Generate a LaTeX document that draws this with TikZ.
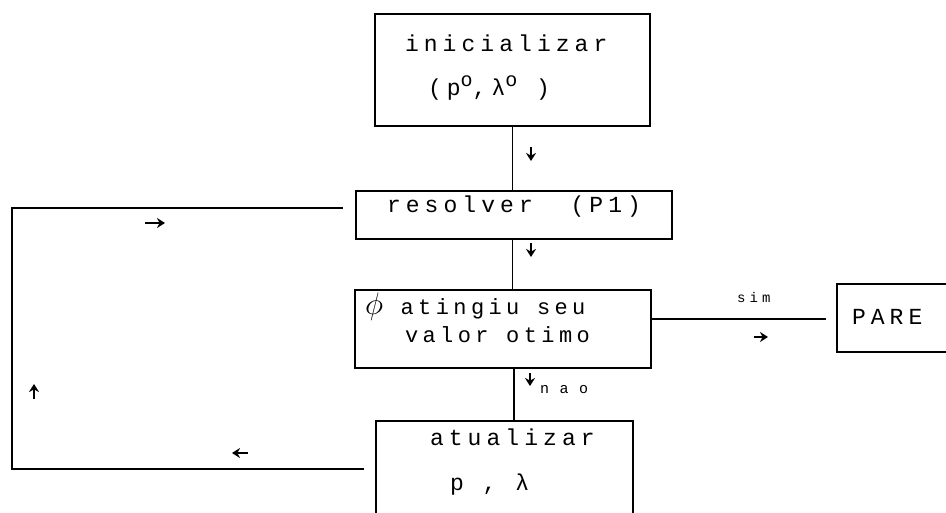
\documentclass[tikz,border=0pt]{standalone}
\usepackage{fontspec}
\usetikzlibrary{arrows.meta}
\newfontfamily\twA[LetterSpace=22]{Liberation Mono}
\newfontfamily\twB[LetterSpace=20]{Liberation Mono}
\newfontfamily\twS[LetterSpace=30]{Liberation Mono}
\newfontfamily\twN[LetterSpace=70]{Liberation Mono}
\newfontfamily\twO{Liberation Mono}
\newcommand{\supo}{\raisebox{9pt}{\fontsize{20}{20}\twO o}}
\begin{document}
\begin{tikzpicture}[x=1pt,y=-1pt,
  box/.style={draw, line width=1.4pt, inner sep=0pt, outer sep=0pt},
  conn/.style={line width=1.6pt},
  lbl/.style={anchor=base west, inner sep=0pt, outer sep=0pt},
  tick/.style={line width=1.6pt, -{Stealth[length=8pt,width=10pt]}}]
\useasboundingbox (0,0) rectangle (946,513);
\clip (0,0) rectangle (946,513);
% boxes
\node[box, minimum width=275pt, minimum height=112pt] (b1) at (512.5,70) {};
\node[box, minimum width=316pt, minimum height=48pt] (b2) at (514,215) {};
\node[box, minimum width=296pt, minimum height=78pt] (b3) at (503,329) {};
\node[box, minimum width=257pt, minimum height=119pt] (b4) at (504.5,480.5) {};
\node[box, minimum width=153pt, minimum height=68pt] (b5) at (913.5,318) {};
% texts
\node[lbl] (t1a) at (405,52) {\fontsize{23}{26}\twA inicializar};
\node[lbl] (t1b) at (428,96) {\fontsize{23}{26}\twA (p\supo,λ\supo~)};
\node[lbl] (t2) at (387,213) {\fontsize{23}{26}\twA resolver~~(P1)};
\node[lbl] (t3a) at (365,315) {\fontsize{22}{26}\twB \scalebox{1.5}{$\phi$} atingiu seu};
\node[lbl] (t3b) at (405,343) {\fontsize{22}{26}\twB valor otimo};
\node[lbl] (t4a) at (430,445) {\fontsize{23}{26}\twA atualizar};
\node[lbl] (t4b) at (450,490) {\fontsize{23}{26}\twA p , λ};
\node[lbl] (t5) at (852,325) {\fontsize{23}{26}\twA PARE};
\node[lbl] (tsim) at (737,303) {\fontsize{14}{16}\twS sim};
\node[lbl] (tnao) at (540,393) {\fontsize{15}{17}\twN nao};
% connectors
\draw[conn] (b1.south) -- (b1.south |- b2.north);
\draw[conn] (b1.south |- b2.south) -- (b1.south |- b3.north);
\draw[conn] ([xshift=1.5pt]b1.south |- b3.south) -- ([xshift=1.5pt]b1.south |- b4.north);
\draw[conn, shorten >=11pt] ([yshift=10pt]b3.east) -- ([yshift=10pt]b3.east -| b5.west);
\coordinate (cl) at (12,469);
\coordinate (cu) at (12,208);
\draw[conn, shorten <=12pt, shorten >=13pt] ([yshift=-48pt]b4.north west) -- (cl) -- (cu) -- ([yshift=7pt]b2.west);
% direction marks
\draw[tick] (531,147) -- (531,161);
\draw[tick] (531,243) -- (531,257);
\draw[tick] (530,373) -- (530,386);
\draw[tick] (145,223) -- (165,223);
\draw[tick] (754,337) -- (768,337);
\draw[tick] (248,453) -- (232,453);
\draw[tick] (34,399) -- (34,384);
\end{tikzpicture}
\end{document}
